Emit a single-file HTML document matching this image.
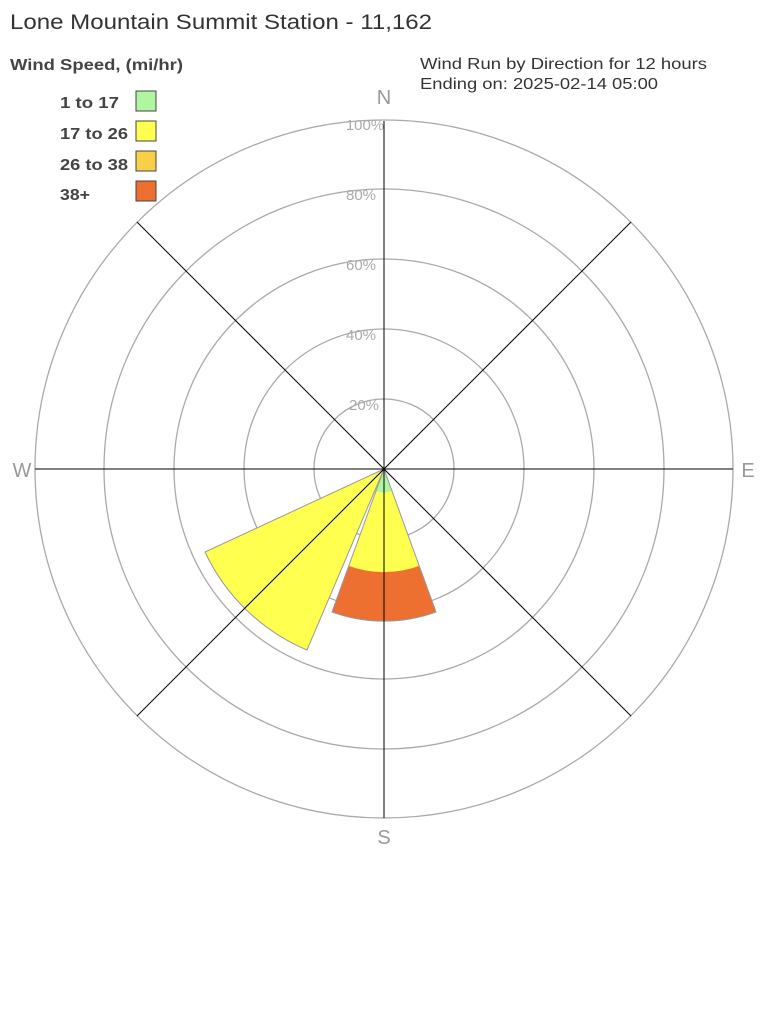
<!DOCTYPE html>
<html><head><style>body{margin:0;background:#fff}</style></head><body>
<svg width="768" height="1008" xmlns="http://www.w3.org/2000/svg" font-family="Liberation Sans, Arial, sans-serif">
<rect width="768" height="1008" fill="#fff"/>
<text x="10" y="29" font-size="21" fill="#333" textLength="422" lengthAdjust="spacingAndGlyphs">Lone Mountain Summit Station - 11,162</text>
<text x="10" y="70" font-size="16" font-weight="bold" fill="#444" textLength="173" lengthAdjust="spacingAndGlyphs">Wind Speed, (mi/hr)</text>
<text x="420" y="69" font-size="16" fill="#333" textLength="287" lengthAdjust="spacingAndGlyphs">Wind Run by Direction for 12 hours</text>
<text x="420" y="89" font-size="16" fill="#333" textLength="238" lengthAdjust="spacingAndGlyphs">Ending on: 2025-02-14 05:00</text>
<g font-size="16" font-weight="bold" fill="#444">
<text x="60" y="108" textLength="59" lengthAdjust="spacingAndGlyphs">1 to 17</text><rect x="136" y="91" width="20" height="20" fill="#b0f5a0" stroke="#444" stroke-width="1"/>
<text x="60" y="139" textLength="68" lengthAdjust="spacingAndGlyphs">17 to 26</text><rect x="136" y="121" width="20" height="20" fill="#ffff50" stroke="#444" stroke-width="1"/>
<text x="60" y="170" textLength="68" lengthAdjust="spacingAndGlyphs">26 to 38</text><rect x="136" y="151" width="20" height="20" fill="#f8d048" stroke="#444" stroke-width="1"/>
<text x="60" y="200" textLength="30" lengthAdjust="spacingAndGlyphs">38+</text><rect x="136" y="181" width="20" height="20" fill="#ee7030" stroke="#444" stroke-width="1"/>
</g>
<g fill="none" stroke="#aaa" stroke-width="1.3">
<circle cx="384" cy="469" r="70"/><circle cx="384" cy="469" r="140"/><circle cx="384" cy="469" r="210"/><circle cx="384" cy="469" r="280"/><circle cx="384" cy="469" r="349"/>
</g>
<g font-size="15" fill="#aaa" text-anchor="middle">
<text x="365" y="130">100%</text><text x="361" y="200">80%</text><text x="361" y="270">60%</text><text x="361" y="340">40%</text><text x="364" y="410">20%</text>
</g>
<g stroke="none">
<path d="M384 469 L307 650 A197 197 0 0 1 205 552 Z" fill="#ffff50"/>
<path d="M384 469 L436 612 A152 152 0 0 1 332 612 Z" fill="#ee7030"/>
<path d="M384 469 L419 566 A103 103 0 0 1 349 566 Z" fill="#ffff50"/>
<path d="M384 469 L392 491 A23 23 0 0 1 376 491 Z" fill="#b0f5a0"/>
</g>
<g fill="none" stroke="#999" stroke-width="1">
<path d="M384 469 L307 650 A197 197 0 0 1 205 552 Z"/>
<path d="M384 469 L436 612 A152 152 0 0 1 332 612 Z"/>
</g>
<g stroke="#000" stroke-width="1">
<line x1="35" y1="469" x2="733" y2="469"/><line x1="384" y1="121" x2="384" y2="818"/>
<line x1="137" y1="222" x2="631" y2="716"/><line x1="631" y1="222" x2="137" y2="716"/>
</g>
<g font-size="20" fill="#999" text-anchor="middle">
<text x="384" y="104">N</text><text x="384" y="844">S</text><text x="22" y="477">W</text><text x="748" y="477">E</text>
</g>
</svg>
</body></html>
